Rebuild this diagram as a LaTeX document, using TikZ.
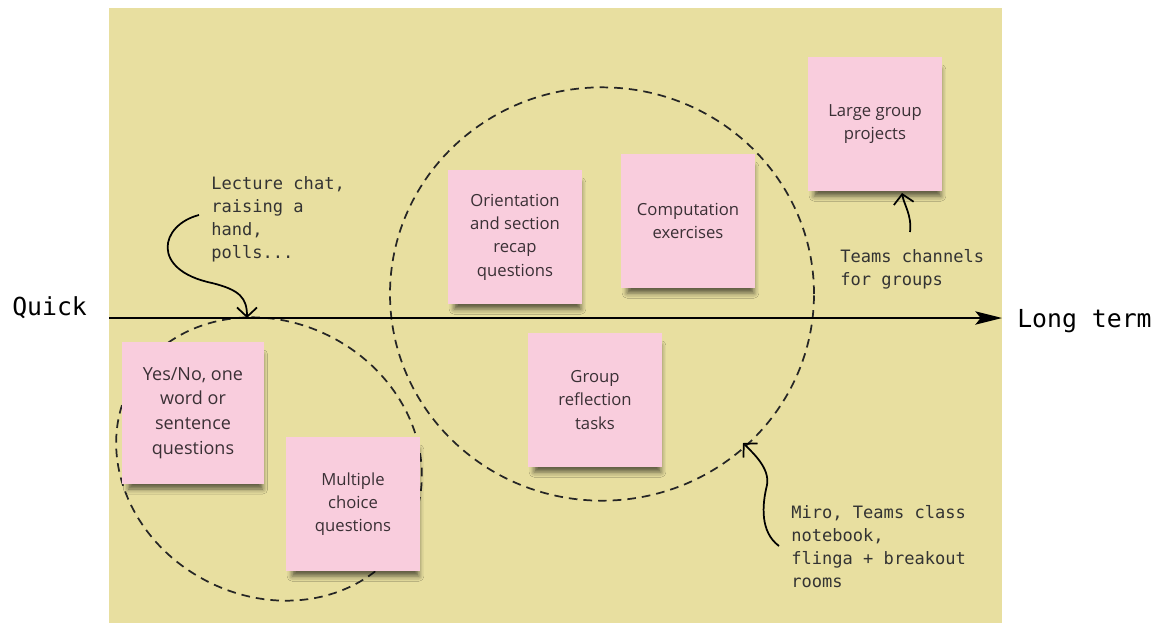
\documentclass[tikz,border=0pt]{standalone}
\usepackage{fontspec}
\setmainfont{Open Sans}
\newfontfamily\monof{DejaVu Sans Mono}
\usetikzlibrary{arrows.meta,shadows.blur}
\definecolor{boardyellow}{HTML}{E8DFA0}
\definecolor{notepink}{HTML}{F9CDDD}
\definecolor{inkgray}{HTML}{333333}
\definecolor{notetext}{HTML}{3A3035}
\begin{document}
\begin{tikzpicture}[x=0.75pt,y=-0.75pt,
 sticky/.style={fill=notepink, minimum width=100pt, minimum height=100pt, inner sep=0pt, align=center, text=notetext,
   font=\fontsize{12.5}{17.5}\selectfont,
   blur shadow={shadow xshift=2pt, shadow yshift=-7pt, shadow scale=0.95, shadow opacity=60, shadow blur radius=4pt}},
 anno/.style={anchor=north west, inner sep=0pt, align=left, text=inkgray, font=\monof\fontsize{12.8}{17.25}\selectfont},
 axislabel/.style={anchor=base west, inner sep=0pt, font=\monof\fontsize{18.6}{22}\selectfont, text=black},
 ring/.style={draw=black!85, line width=1.3pt, dash pattern=on 6.5pt off 4.5pt},
 pointer/.style={draw=black, line width=1.3pt, -{Straight Barb[length=7pt,width=15pt]}}
]
\useasboundingbox (0,0) rectangle (1159,625);
\fill[white] (0,0) rectangle (1159,625);
\fill[boardyellow] (109,8) rectangle (1002,623);

% dashed groupings
\draw[ring, rotate around={-28:(269,459)}] (269,459) ellipse [x radius=117.75pt, y radius=102.75pt];
\draw[ring] (602,294) ellipse [x radius=159pt, y radius=155pt];

% axis
\coordinate (axstart) at (109,318);
\coordinate (axend) at (1002,318);
\draw[line width=1.3pt, -{Stealth[length=20pt,width=10pt,inset=4pt]}] (axstart) -- (axend);
\node[axislabel] (quick) at (12,315) {Quick};
\node[axislabel] (longterm) at (1017,327) {Long term};

% sticky notes
\node[sticky, minimum width=106pt, minimum height=106pt, font=\fontsize{13.5}{18.5}\selectfont] (yesno) at (193,413) {Yes/No, one\\word or\\sentence\\questions};
\node[sticky] (multi) at (353,504) {Multiple\\choice\\questions};
\node[sticky] (orient) at (515,237) {Orientation\\and section\\recap\\questions};
\node[sticky] (comp) at (688,221) {Computation\\exercises};
\node[sticky] (group) at (595,400) {Group\\reflection\\tasks};
\node[sticky] (large) at (875,124) {Large group\\projects};

% annotations
\node[anno] (lecture) at (211,176) {Lecture chat,\\raising a\\hand,\\polls...};
\node[anno] (teams) at (840,249) {Teams channels\\for groups};
\node[anno] (miro) at (791,505) {Miro, Teams class\\notebook,\\flinga + breakout\\rooms};

\coordinate (lc1) at (199,215);
\coordinate (lc2) at (247,318);
\draw[pointer] (lc1) .. controls (160,225) and (150,270) .. (212,283) .. controls (240,290) and (247,298) .. (lc2);

\coordinate (tc1) at (910,232);
\coordinate (tc2) at (902,193);
\draw[pointer] (tc1) .. controls (912,215) and (904,205) .. (tc2);

\coordinate (mc1) at (779,546);
\coordinate (mc2) at (743,443);
\draw[pointer] (mc1) .. controls (760,532) and (762,505) .. (767,485) .. controls (770,468) and (753,453) .. (mc2);
\end{tikzpicture}
\end{document}
